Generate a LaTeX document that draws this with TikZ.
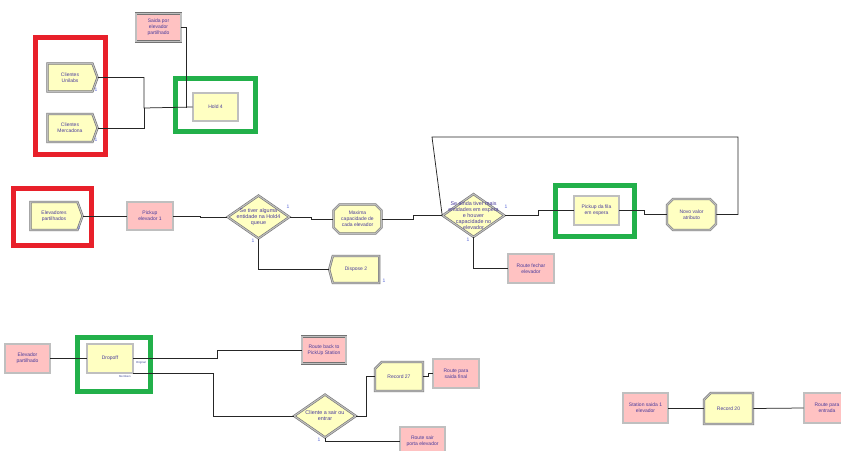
\documentclass[tikz,border=0pt]{standalone}
\usepackage{fontspec}
\setmainfont{Liberation Sans}
\usetikzlibrary{shapes.geometric,shapes.symbols,shapes.misc}
\definecolor{modfill}{HTML}{FFFFC2}
\definecolor{routefill}{HTML}{FFC2C2}
\definecolor{modtext}{HTML}{4A3C9C}
\definecolor{marknum}{HTML}{5A6AD8}
\definecolor{markred}{HTML}{E8202A}
\definecolor{markgreen}{HTML}{22B04A}
\tikzset{
  module/.style={draw=black!55,line width=.6pt,double=black!25,double distance=1.1pt,
    fill=modfill,text=modtext,font=\fontsize{5}{5.8}\selectfont,align=center,inner sep=0pt},
  route/.style={module,fill=routefill,minimum width=45pt,minimum height=28pt},
  holdbox/.style={module,minimum width=45pt,minimum height=28pt},
  create/.style={module,shape=signal,signal to=east,signal pointer angle=140,minimum width=50pt,minimum height=28pt},
  dispbox/.style={module,shape=signal,signal to=west,signal pointer angle=150,minimum width=50pt,minimum height=27pt},
  assign/.style={module,chamfered rectangle,chamfered rectangle xsep=3pt,chamfered rectangle ysep=3pt,minimum width=48pt,minimum height=29pt},
  record/.style={module,chamfered rectangle,chamfered rectangle corners=north west,chamfered rectangle xsep=5pt,chamfered rectangle ysep=5pt,minimum width=48pt,minimum height=29pt},
  decide/.style={module,diamond,minimum width=62pt,minimum height=43pt},
  dectext/.style={text=modtext,font=\fontsize{5.4}{6}\selectfont,align=center,inner sep=0pt},
  num/.style={text=marknum,font=\fontsize{5}{5}\selectfont,inner sep=0pt},
  tag/.style={text=marknum!70!black,font=\fontsize{2.8}{3}\selectfont,inner sep=0pt},
  conn/.style={draw=black!85,line width=.75pt},
  markbox/.style={line width=5pt}
}
\begin{document}
\begin{tikzpicture}[x=1pt,y=-1pt]
\clip (0,0) rectangle (841,450);
\fill[white] (0,0) rectangle (841,450);
% markers
\draw[markbox,markred] (35.5,37.5) rectangle (105.5,154.5);
\draw[markbox,markred] (13.5,188.5) rectangle (91.5,245.5);
\draw[markbox,markgreen] (175.5,78.5) rectangle (255.5,131.5);
\draw[markbox,markgreen] (555.5,185.5) rectangle (634.5,236.5);
\draw[markbox,markgreen] (77.5,337.5) rectangle (150.5,391.5);
% hold group
\node[create] (unilabs) at (70,77.5) {Clientes\\Unilabs};
\node[create] (mercadona) at (70,128) {Clientes\\Mercadona};
\node[route] (saidaElev) at (158.5,27.5) {Saida por\\elevador\\partilhado};
\node[holdbox] (holdQ) at (215.5,107) {Hold 4};
\coordinate (j1) at (144,108);
\coordinate (j2) at (186,108);
\draw[conn] (unilabs.east) -| (j1) -- (holdQ.west);
\draw[conn] (mercadona.east) -| (j1);
\draw[conn] (saidaElev.east) -| (j2);
\node[num] (n1) at (96,90) {1};
\node[num] (n2) at (96,140) {1};
% pickup line
\node[create,minimum width=52pt] (elevPart) at (54,216) {Elevadores\\partilhados};
\node[route,minimum width=46pt] (pickupElev) at (150,216) {Pickup\\elevador 1};
\node[decide,label={[dectext]center:Se tiver alguma\\entidade na Hold4\\queue}] (decHold) at (258.5,217) {};
\node[assign] (maxCap) at (357.5,219) {Maxima\\capacidade de\\cada elevador};
\node[dispbox] (dispose) at (356,269.5) {Dispose 2};
\node[decide,label={[dectext]center:Se ainda tiver mais\\entidades em espera\\e houver\\capacidade no\\elevador}] (decEspera) at (473.5,215.5) {};
\node[route,minimum width=46pt,minimum height=29pt] (routeFechar) at (531,268.5) {Route fechar\\elevador};
\node[holdbox,minimum height=29pt] (pickupFila) at (596.5,210.5) {Pickup da fila\\em espera};
\node[assign,minimum width=49pt,minimum height=31pt] (novoValor) at (691.5,214.5) {Novo valor\\atributo};
\coordinate (loopR) at (738,137);
\coordinate (loopL) at (432,137);
\draw[conn] (elevPart.east) -- (pickupElev.west);
\draw[conn] (pickupElev.east) -- ++(27,0) |- (decHold.west);
\draw[conn] (decHold.east) -- ++(22,0) |- (maxCap.west);
\draw[conn] (decHold.south) |- (dispose.west);
\draw[conn] (maxCap.east) -- ++(32,0) |- (decEspera.west);
\draw[conn] (decEspera.east) -- ++(34,0) |- (pickupFila.west);
\draw[conn] (decEspera.south) |- (routeFechar.west);
\draw[conn] (pickupFila.east) -- ++(25,0) |- (novoValor.west);
\draw[conn] (novoValor.east) -| (loopR) -- (loopL) -- (decEspera.west);
\node[num] (n3) at (79,228) {1};
\node[num] (n4) at (288,207) {1};
\node[num] (n5) at (253,241) {1};
\node[num] (n6) at (384,281) {1};
\node[num] (n7) at (506,207) {1};
\node[num] (n8) at (468,240) {1};
% dropoff line
\node[route,minimum height=29pt] (elevadorPart) at (27.5,358.5) {Elevador\\partilhado};
\node[holdbox,minimum width=46pt,minimum height=29pt] (dropoff) at (110,358.5) {Dropoff};
\node[tag] (tagOrig) at (141,362.5) {Original};
\node[tag] (tagMemb) at (125,376.5) {Members};
\node[route,minimum width=44pt,minimum height=27pt] (routeBack) at (324,350) {Route back to\\PickUp Station};
\node[decide,label={[dectext]center:Cliente a sair ou\\entrar}] (decSair) at (325,416) {};
\node[record] (recordA) at (399,376.5) {Record 27};
\node[route,minimum width=46pt,minimum height=29pt] (routeFinal) at (456,373.5) {Route para\\saida final};
\node[route] (routeSair) at (422.5,441) {Route sair\\porta elevador};
\draw[conn] (elevadorPart.east) -- (dropoff.west);
\draw[conn] (dropoff.east) -- ++(84,0) |- (routeBack.west);
\draw[conn] (dropoff.south east) -- ++(80,0) |- (decSair.west);
\draw[conn] (decSair.east) -- ++(10,0) |- (recordA.west);
\draw[conn] (recordA.east) -- ++(5,0) |- (routeFinal.west);
\draw[conn] (decSair.south) |- (routeSair.west);
\node[num] (n9) at (319,440) {1};
% station line
\node[route,minimum height=30pt] (stationSaida) at (645.5,408) {Station saida 1\\elevador};
\node[record,minimum width=49pt,minimum height=31pt] (recordB) at (728.5,408.5) {Record 20};
\node[route,minimum width=46pt,minimum height=30pt] (routeEntrada) at (827,408) {Route para\\entrada};
\draw[conn] (stationSaida.east) -- ++(19,0) |- (recordB.west);
\draw[conn] (recordB.east) -- (routeEntrada.west);
\end{tikzpicture}
\end{document}
